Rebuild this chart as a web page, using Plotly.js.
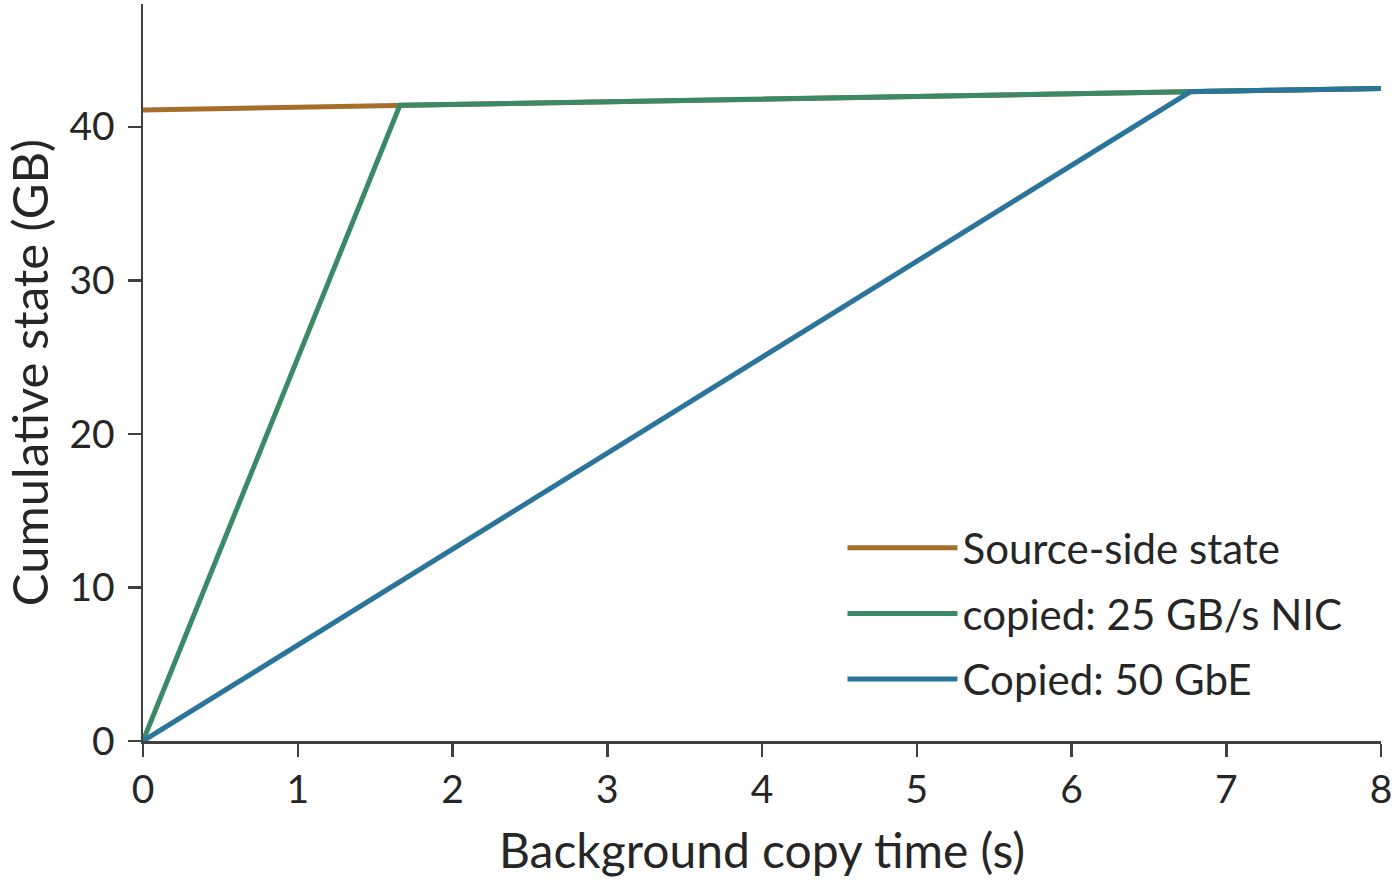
<!DOCTYPE html>
<html>
<head>
<meta charset="utf-8">
<script src="https://cdn.plot.ly/plotly-3.0.1.min.js"></script>
<style>
  html, body { margin: 0; padding: 0; background: #fff; }
  #chart { width: 1400px; height: 883px; }
</style>
</head>
<body>
<div id="chart"></div>
<script>
// values
const SERIES_NAMES = ['Source-side state', 'copied: 25 GB/s NIC', 'Copied: 50 GbE'];
const SRC_T = [0, 8];
const SRC_GB = [41.1, 42.5];
const NIC_T = [0, 1.66, 8];
const NIC_GB = [0, 41.4, 42.5];
const GBE_T = [0, 6.77, 8];
const GBE_GB = [0, 42.3, 42.5];
const X_TICKS = [0, 1, 2, 3, 4, 5, 6, 7, 8];
const Y_TICKS = [0, 10, 20, 30, 40];

const COLORS = ['#a66e2a', '#3a8a68', '#2a7599'];
const FONT = 'Lato, "Noto Sans", sans-serif';

const mk = (x, y, i) => ({
  type: 'scatter', mode: 'lines', x, y,
  name: SERIES_NAMES[i], legendgroup: 'g' + i,
  line: { color: COLORS[i], width: 5 },
  hoverinfo: 'skip',
});

const axis = {
  showline: true, linecolor: '#404040', linewidth: 2.5,
  ticks: 'outside', ticklen: 13, tickwidth: 2.5, tickcolor: '#404040',
  showgrid: false, zeroline: false,
  tickfont: { family: FONT, size: 39, color: '#262626' },
};

Plotly.newPlot('chart', [
  mk(SRC_T, SRC_GB, 0),
  mk(NIC_T, NIC_GB, 1),
  mk(GBE_T, GBE_GB, 2),
], {
  width: 1400, height: 883,
  paper_bgcolor: '#fff', plot_bgcolor: '#fff',
  font: { family: FONT, color: '#262626' },
  margin: { l: 143, r: 19, t: 4, b: 142 },
  xaxis: {
    ...axis, range: [0, 8], tickvals: X_TICKS,
    title: { text: 'Background copy time (s)', font: { family: FONT, size: 48, color: '#262626' }, standoff: 24 },
  },
  yaxis: {
    ...axis, range: [0, 48], tickvals: Y_TICKS, ticklabelstandoff: 5,
    title: { text: 'Cumulative state (GB)', font: { family: FONT, size: 49, color: '#262626' }, standoff: 8 },
  },
  showlegend: true,
  legend: {
    x: 0.565, y: 0.308, xanchor: 'left', yanchor: 'top',
    bgcolor: 'rgba(0,0,0,0)', borderwidth: 0,
    font: { family: FONT, size: 42, color: '#262626' },
    traceorder: 'grouped', tracegroupgap: 8, itemwidth: 110,
  },
}, { displayModeBar: false, staticPlot: true });
</script>
</body>
</html>
